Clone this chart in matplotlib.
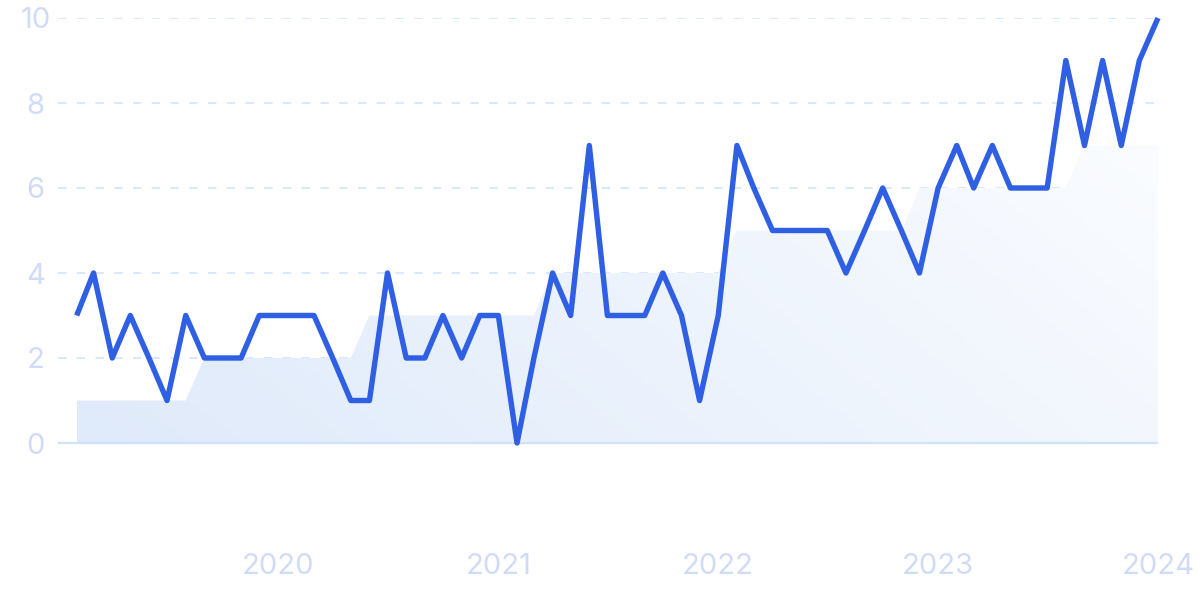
#!/usr/bin/env python3
"""Monthly interest line with a stepped trend band behind it."""

from datetime import date

import matplotlib

matplotlib.use("Agg")
import matplotlib.dates as mdates
import matplotlib.pyplot as plt
import numpy as np
from matplotlib.colors import LinearSegmentedColormap

# monthly values, Feb 2019 .. Jan 2024
start_year, start_month = 2019, 2
values = [
    3, 4, 2, 3, 2, 1, 3, 2, 2, 2, 3,
    3, 3, 3, 2, 1, 1, 4, 2, 2, 3, 2, 3,
    3, 0, 2, 4, 3, 7, 3, 3, 3, 4, 3, 1,
    3, 7, 6, 5, 5, 5, 5, 4, 5, 6, 5, 4,
    6, 7, 6, 7, 6, 6, 6, 9, 7, 9, 7, 9,
    10,
]
trend = (
    [1] * 7 + [2] * 9 + [3] * 10 + [4] * 10 + [5] * 10 + [6] * 9 + [7] * 5
)
year_ticks = [2020, 2021, 2022, 2023, 2024]
y_ticks = [0, 2, 4, 6, 8, 10]

LINE = "#2f5fe3"
LABEL = "#d0dcf7"
GRID = "#d3e4fc"


def month_dates(n: int) -> list[date]:
    out = []
    y, m = start_year, start_month
    for _ in range(n):
        out.append(date(y, m, 1))
        m += 1
        if m > 12:
            y, m = y + 1, 1
    return out


def main() -> int:
    dates = month_dates(len(values))
    x = mdates.date2num(dates)

    fig = plt.figure(figsize=(12, 6), dpi=100)
    ax = fig.add_axes([58 / 1200, 1 - 528 / 600, 1100 / 1200, 510 / 600])
    plt.rcParams["font.family"] = ["Inter", "DejaVu Sans"]

    x0 = mdates.date2num(date(2019, 1, 1))
    x1 = mdates.date2num(date(2024, 1, 1))
    ax.set_xlim(x0, x1)
    ax.set_ylim(-2, 10)

    # trend band with a soft diagonal gradient
    band = ax.fill_between(x, trend, 0, color="none", lw=0)
    gx, gy = np.meshgrid(np.linspace(0, 1, 200), np.linspace(0, 1, 100))
    grad = 0.75 * gx + 0.25 * (1 - gy)
    cmap = LinearSegmentedColormap.from_list("band", ["#dfeafa", "#fafcff"])
    img = ax.imshow(grad, extent=[x[0], x[-1], 0, max(trend)], origin="upper",
                    aspect="auto", cmap=cmap, zorder=1)
    img.set_clip_path(band.get_paths()[0], transform=ax.transData)

    lw = 1.2
    for v in y_ticks[1:]:
        ax.axhline(v, color=GRID, lw=lw, ls=(0, (6 / lw, 7.5 / lw)), zorder=0.5)
    ax.axhline(0, color="#cfe2fb", lw=1.6, zorder=2)

    ax.plot(x, values, color=LINE, lw=3.9, solid_joinstyle="round",
            solid_capstyle="butt", zorder=3, clip_on=False)

    ax.set_yticks(y_ticks)
    ax.set_yticklabels([str(v) for v in y_ticks], ha="center")
    ax.set_xticks([mdates.date2num(date(yr, 1, 1)) for yr in year_ticks])
    ax.set_xticklabels([str(yr) for yr in year_ticks])
    ax.tick_params(axis="y", length=0, pad=16, labelsize=21, labelcolor=LABEL)
    ax.tick_params(axis="x", length=0, pad=18, labelsize=21, labelcolor=LABEL)
    for label in ax.get_xticklabels() + ax.get_yticklabels():
        label.set_family(["Inter", "DejaVu Sans"])

    for side in ax.spines.values():
        side.set_visible(False)
    ax.set_facecolor("white")

    fig.savefig("out.png", dpi=100, facecolor="white")
    return 0


if __name__ == "__main__":
    raise SystemExit(main())
